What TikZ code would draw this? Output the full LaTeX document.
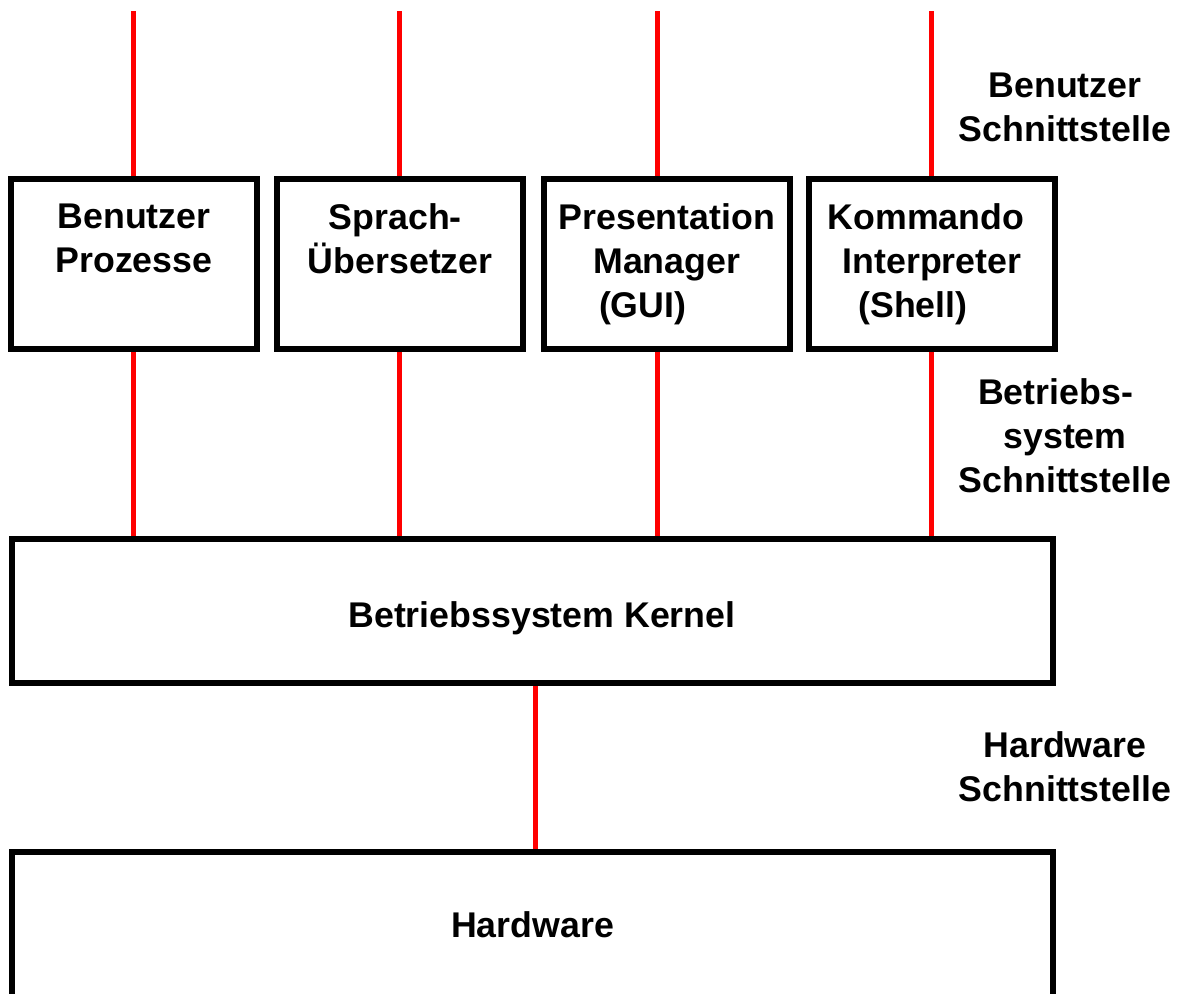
\documentclass[tikz,border=0pt]{standalone}
\usepackage{fontspec}
\setmainfont{Liberation Sans}
\usepackage{tikz}

\tikzset{
  layer/.style={draw,line width=0.15cm,inner sep=0pt,align=center,minimum width=6.15cm,minimum height=4.25cm},
  link/.style={red,line width=0.125cm},
  tag/.style={align=center,inner sep=0pt},
}

\begin{document}
\begin{tikzpicture}[x=0.025cm,y=-0.025cm,font=\fontsize{25.4pt}{31.3pt}\selectfont\bfseries]
  \useasboundingbox (0,0) rectangle (1179,994);
  % layers
  \node[layer] (up) at (134,264) {Benutzer\\Prozesse\\\vphantom{(}};
  \node[layer] (lt) at (400.25,264) {Sprach-\hspace*{0.25cm}\\Übersetzer\\\vphantom{(}};
  \node[layer] (pm) at (666.75,264) {Presentation\\Manager\hspace*{0.4cm}\\(GUI)\hspace*{1.2cm}};
  \node[layer] (ci) at (932,264) {Kommando\hspace*{0.3cm}\\Interpreter\hspace*{0.6cm}\\(Shell)\hspace*{0.95cm}};
  \node[layer,minimum width=26.025cm,minimum height=3.6cm,text height=8mm,text depth=0pt] (os) at (532.5,611) {\hspace*{0.475cm}Betriebssystem Kernel};
  \node[layer,minimum width=26.025cm,minimum height=4cm,text height=2.5mm,text depth=0pt] (hw) at (532.5,932) {Hardware};
  % interfaces
  \node[tag] (ui) at (1065,107) {Benutzer\\Schnittstelle};
  \node[tag] (si) at (1065,436) {Betriebs-\hspace*{0.475cm}\\system\hspace*{0.75cm}\\Schnittstelle};
  \node[tag] (hi) at (1065,767) {Hardware\\Schnittstelle};
  % red links
  \coordinate (t1) at (133,11);
  \coordinate (t2) at (399,11);
  \coordinate (t3) at (657,11);
  \coordinate (t4) at (931,11);
  \draw[link] (t1) -- (t1 |- up.north);
  \draw[link] (t2) -- (t2 |- lt.north);
  \draw[link] (t3) -- (t3 |- pm.north);
  \draw[link] (t4) -- (t4 |- ci.north);
  \draw[link] (t1 |- up.south) -- (t1 |- os.north);
  \draw[link] (t2 |- lt.south) -- (t2 |- os.north);
  \draw[link] (t3 |- pm.south) -- (t3 |- os.north);
  \draw[link] (t4 |- ci.south) -- (t4 |- os.north);
  \draw[link] ([xshift=0.075cm]os.south) -- ([xshift=0.075cm]hw.north);
\end{tikzpicture}
\end{document}
